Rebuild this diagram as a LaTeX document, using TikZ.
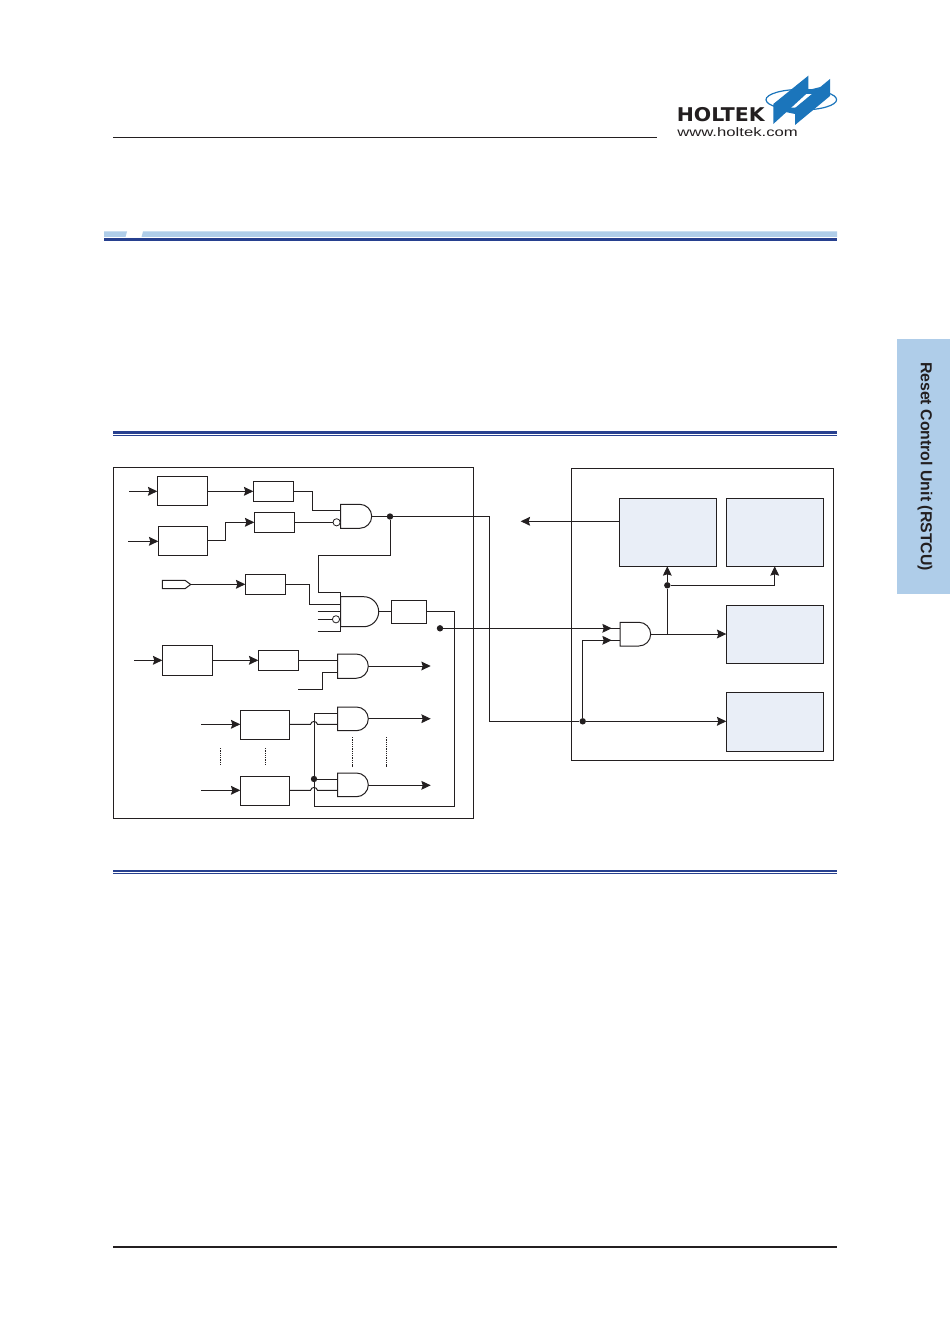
\documentclass[tikz,border=0pt]{standalone}
\usepackage{fontspec}
\setmainfont{Liberation Sans}
\newfontfamily\logofont{DejaVu Sans}
\usetikzlibrary{arrows.meta}
\definecolor{tabblue}{HTML}{AFCDE9}
\definecolor{barblue}{HTML}{27408F}
\definecolor{blockfill}{HTML}{E9EEF7}
\definecolor{logoblue}{HTML}{1B75BB}
\definecolor{ink}{HTML}{231F20}
\tikzset{
  wire/.style={draw=ink,line width=0.75pt},
  arrowwire/.style={wire,-{Stealth[length=7pt,width=6.6pt,inset=1pt]}},
  blockbox/.style={draw=ink,line width=0.75pt,inner sep=0pt,outer sep=0pt,fill=white},
  shaded block/.style={blockbox,fill=blockfill},
  gateoutline/.style={draw=ink,line width=0.75pt,fill=white},
  junction/.style={circle,fill=ink,inner sep=0pt,minimum size=4.8pt},
  bubble/.style={circle,draw=ink,line width=0.6pt,fill=white,inner sep=0pt,minimum size=5.4pt},
  dotsline/.style={draw=ink,line width=0.6pt,dash pattern=on 1pt off 0.7pt},
  frame/.style={draw=ink,line width=0.75pt,inner sep=0pt,outer sep=0pt},
}
% \boxnode{name}{x1}{y1}{x2}{y2}{style}
\newcommand{\boxnode}[6]{%
  \pgfmathsetmacro{\bw}{(#4-#2)*0.75}%
  \pgfmathsetmacro{\bh}{(#5-#3)*0.75}%
  \node[#6,minimum width=\bw pt,minimum height=\bh pt,anchor=north west] (#1) at (#2,#3) {};}
% \andgate{name}{x1}{ytop}{x2}{ybottom}: flat left side, round right side
\newcommand{\andgate}[5]{%
  \pgfmathsetmacro{\gr}{(#5-#3)/2}%
  \pgfmathsetmacro{\gs}{#4-\gr}%
  \pgfmathsetmacro{\gm}{(#3+#5)/2}%
  \draw[gateoutline] (#2,#3) -- (\gs,#3) arc[start angle=90,end angle=-90,x radius=\gr,y radius=-\gr] -- (#2,#5) -- cycle;
  \coordinate (#1) at (#4,\gm);}
\begin{document}
\begin{tikzpicture}[x=0.75pt,y=-0.75pt]
\useasboundingbox (0,0) rectangle (950,1344);
% page furniture
\fill[white] (0,0) rectangle (950,1344);
\draw[ink,line width=0.6pt] (113,137.6) -- (657,137.6);
\fill[tabblue] (104,231.5) -- (127,231.5) -- (125.5,237) -- (104,237) -- cycle;
\fill[tabblue] (143,231.5) -- (837,231.5) -- (837,237) -- (141.5,237) -- cycle;
\fill[barblue] (104,238) rectangle (837,241);
\fill[barblue] (113,431.3) rectangle (837,433.6);
\fill[barblue] (113,435) rectangle (837,436.2);
\fill[barblue] (113,869.6) rectangle (837,871.9);
\fill[barblue] (113,873) rectangle (837,874.2);
\draw[ink,line width=1.1pt] (113,1247) -- (837,1247);
\fill[tabblue] (897,339) rectangle (950,594);
\node[rotate=-90,font=\bfseries\fontsize{11.9}{13}\selectfont,text=ink,inner sep=0pt] (tabtext) at (925,466.5) {Reset Control Unit (RSTCU)};
% logo
\draw[logoblue,line width=0.9pt] (801.3,99.7) ellipse[x radius=35.3,y radius=10.3];
\fill[logoblue] (773.3,104) -- (808.3,75.7) -- (808.3,92) -- (773.3,124) -- cycle;
\fill[logoblue] (795,108) -- (830,79) -- (830,96) -- (795,125) -- cycle;
\fill[logoblue] (808.3,90) -- (820.5,87) -- (813,94) -- (804.1,94) -- cycle;
\fill[logoblue] (789.7,107.7) -- (797.6,107.7) -- (795,110) -- (795,114) -- (785.5,112) -- cycle;
\node[anchor=west,inner sep=0pt,font=\logofont\bfseries\fontsize{14.2}{15}\selectfont,text=ink] (logotext) at (676.5,115) {\scalebox{1.08}[1]{HOLTEK}};
\node[anchor=west,inner sep=0pt,font=\fontsize{9.2}{10}\selectfont,text=ink] (logourl) at (677,132.5) {\scalebox{1.36}[1]{www.holtek.com}};
% frames
\node[frame,minimum width=270pt,minimum height=263.25pt,anchor=north west] (left) at (113.3,467.4) {};
\node[frame,minimum width=196.5pt,minimum height=219pt,anchor=north west] (right) at (571.3,468.3) {};
% left boxes
\boxnode{a1}{157.3}{476.3}{207.3}{505.3}{blockbox}
\boxnode{b1}{253.3}{481.3}{293.3}{501.3}{blockbox}
\boxnode{a2}{158.3}{526.3}{207.7}{555.3}{blockbox}
\boxnode{b2}{254.3}{512.3}{294.3}{532.3}{blockbox}
\boxnode{c}{245.3}{574.3}{285.3}{594.3}{blockbox}
\boxnode{d}{391.3}{600.3}{426.7}{623.7}{blockbox}
\boxnode{e}{162.3}{645.3}{212.3}{675.3}{blockbox}
\boxnode{f}{258.3}{650.3}{298.3}{670.3}{blockbox}
\boxnode{g}{240.3}{710.3}{289.7}{739.3}{blockbox}
\boxnode{h}{240.3}{776.3}{289.7}{805.3}{blockbox}
% right blocks
\boxnode{p}{619.3}{498.3}{716.3}{566.3}{shaded block}
\boxnode{q}{726.3}{498.3}{823.3}{566.3}{shaded block}
\boxnode{r}{726.3}{605.3}{823.3}{663.3}{shaded block}
\boxnode{s}{726.3}{692.3}{823.3}{751.3}{shaded block}
% free ends and junctions
\coordinate (ina1) at (129,491.3);
\coordinate (ina2) at (128,541.3);
\coordinate (ine) at (134,660.3);
\coordinate (ing) at (201,724.3);
\coordinate (inh) at (201,790.3);
\node[junction] (j1) at (390,516.5) {};
\node[junction] (j2) at (440,628.3) {};
\node[junction] (j3) at (314,779) {};
\node[junction] (j4) at (582.7,721.3) {};
\node[junction] (j5) at (667.3,585.3) {};
\coordinate (leftarrow) at (520.7,521.3);
\coordinate (x1) at (430.7,666);
\coordinate (x2) at (430.7,718.7);
\coordinate (x3) at (430.7,785.3);
% wires
\draw[arrowwire] (ina1) -- (a1.west |- ina1);
\draw[arrowwire] (a1.east |- 0,491.3) -- (b1.west |- 0,491.3);
\draw[arrowwire] (ina2) -- (a2.west |- ina2);
\draw[arrowwire] (a2.east |- 0,540.3) -- (225.3,540.3) -- (225.3,522.3) -- (b2.west |- 0,522.3);
\draw[wire] (b1.east |- 0,491.3) -- (312.6,491.3) -- (312.6,510.3) -- (341,510.3);
\draw[wire] (b2.east |- 0,522.3) -- (334,522.3);
\draw[wire] (371.7,516.5) -- (j1);
\draw[wire] (j1) -- (489.3,516.5) -- (489.3,721.3) -- (j4);
\draw[wire] (j1) -- (390,555.3) -- (318.3,555.3) -- (318.3,592.3) -- (340.7,592.3);
\draw[wire] (c.east |- 0,584.3) -- (309.3,584.3) -- (309.3,604.3) -- (340.7,604.3);
\draw[wire] (317.7,611.7) -- (340.7,611.7);
\draw[wire] (317.7,619.3) -- (334,619.3);
\draw[wire] (317.7,631.3) -- (340.7,631.3);
\draw[wire] (340.7,592.3) -- (340.7,631.3);
\draw[wire] (378.7,611.3) -- (d.west |- 0,611.3);
\draw[wire] (d.east |- 0,611.3) -- (454.3,611.3) -- (454.3,806.3) -- (314,806.3) -- (314,713.3) -- (337.7,713.3);
\draw[arrowwire] (j2) -- (611.7,628.3);
\draw[wire] (605,628.3) -- (620,628.3);
\draw[arrowwire] (ine) -- (e.west |- ine);
\draw[arrowwire] (e.east |- 0,660.3) -- (f.west |- 0,660.3);
\draw[wire] (f.east |- 0,660.3) -- (337.7,660.3);
\draw[wire] (f.east |- 0,689.3) -- (322.7,689.3) -- (322.7,672.3) -- (337.7,672.3);
\draw[arrowwire] (368.3,666) -- (x1);
\draw[arrowwire] (ing) -- (g.west |- ing);
\draw[wire] (g.east |- ing) -- (310.5,724.3) .. controls (311.5,720.5) and (316.5,720.5) .. (317.5,724.3) -- (337.7,724.3);
\draw[arrowwire] (368.3,718.7) -- (x2);
\draw[arrowwire] (inh) -- (h.west |- inh);
\draw[wire] (h.east |- inh) -- (310.5,790.3) .. controls (311.5,786.5) and (316.5,786.5) .. (317.5,790.3) -- (337.7,790.3);
\draw[wire] (j3) -- (337.7,779);
\draw[arrowwire] (368.3,785.3) -- (x3);
% right side wires
\draw[arrowwire] (p.west |- leftarrow) -- (leftarrow);
\draw[arrowwire] (j4) -- (r.west |- 0,721.3);
\draw[arrowwire] (j4) -- (582.7,640.3) -- (611.7,640.3);
\draw[wire] (605,640.3) -- (620,640.3);
\draw[arrowwire] (650.7,634) -- (r.west |- 0,634);
\draw[wire] (667.3,634) -- (j5);
\draw[arrowwire] (j5) -- (p.south -| j5);
\draw[arrowwire] (j5) -- (774.7,585.3) -- (q.south -| 774.7,0);
% gates
\andgate{g1}{340.7}{504.3}{371.7}{528.3}
\andgate{g2}{340.7}{596.7}{378.7}{626.7}
\andgate{g3}{337.7}{654}{368.3}{678.3}
\andgate{g4}{337.7}{707}{368.3}{730.7}
\andgate{g5}{337.7}{773}{368.3}{796.7}
\andgate{g6}{620}{622.3}{650.7}{646}
\node[bubble] (b1n) at (336.6,522.3) {};
\node[bubble] (b2n) at (336,619.3) {};
% pin
\draw[draw=ink,line width=0.75pt,fill=white] (162.3,580.3) -- (185,580.3) -- (190.7,584.5) -- (185,588.7) -- (162.3,588.7) -- cycle;
\coordinate (pin) at (190.7,584.3);
\draw[arrowwire] (pin) -- (c.west |- pin);
% dotted
\draw[dotsline] (220.7,748) -- (220.7,766);
\draw[dotsline] (265.3,748) -- (265.3,766);
\draw[dotsline] (352.7,737) -- (352.7,767);
\draw[dotsline] (386.3,737) -- (386.3,767);
\end{tikzpicture}
\end{document}
